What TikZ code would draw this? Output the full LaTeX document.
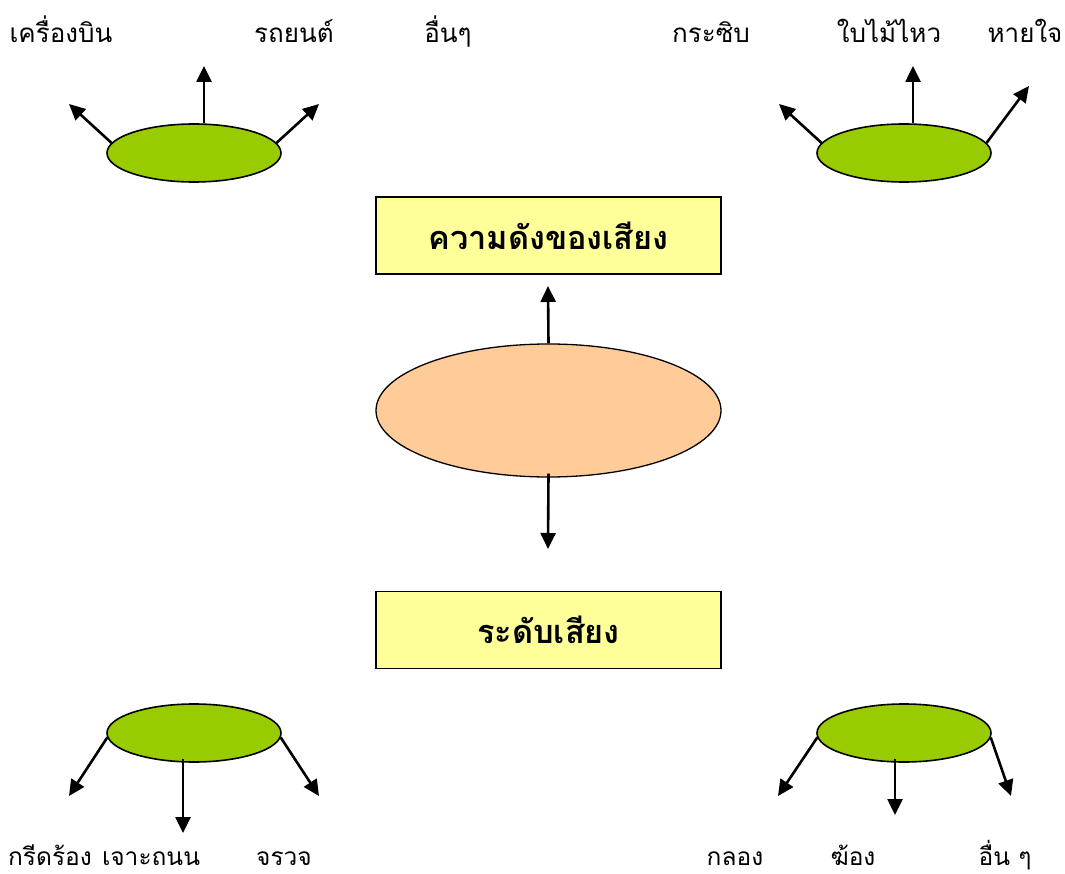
\documentclass[tikz,border=0pt]{standalone}
\usepackage{fontspec}
\newfontfamily\thaifont[Script=Thai]{Loma}
\usetikzlibrary{shapes.geometric,arrows.meta,calc}
\definecolor{leafgreen}{HTML}{99CC00}
\definecolor{peach}{HTML}{FFCC99}
\definecolor{paleyellow}{HTML}{FFFF99}
\begin{document}
\begin{tikzpicture}[x=1pt,y=-1pt,
  every node/.style={font=\thaifont},
  smallleaf/.style={ellipse,draw,line width=1.6pt,fill=leafgreen,minimum width=174pt,minimum height=58pt,inner sep=0pt},
  bigleaf/.style={ellipse,draw,line width=1.3pt,fill=peach,minimum width=345pt,minimum height=133pt,inner sep=0pt},
  titlebox/.style={draw,line width=1.3pt,fill=paleyellow,minimum width=345pt,minimum height=77pt,inner sep=0pt,font=\thaifont\bfseries\fontsize{32.5}{36}\selectfont},
  word/.style={anchor=base,inner sep=0pt,font=\thaifont\fontsize{26}{30}\selectfont},
  lowword/.style={word,font=\thaifont\fontsize{24.5}{28}\selectfont},
  pointer/.style={line width=2.6pt,-{Triangle[length=16pt,width=15pt]}}
]
\useasboundingbox (0,0) rectangle (1065,874);

% central part
\node[titlebox] (loud) at (548.5,235.5) {ความดังของเสียง};
\node[bigleaf] (core) at (548.5,410.5) {};
\node[titlebox] (level) at (548.5,630) {ระดับเสียง};
\coordinate (upend) at (548,286);
\coordinate (downend) at (548,549);
\draw[pointer] (core.north) -- (upend);
\draw[pointer] ($(core.south)+(0,-4)$) -- (downend);

% four small ellipses
\node[smallleaf] (tl) at (194,153) {};
\node[smallleaf] (tr) at (904,153) {};
\node[smallleaf] (bl) at (194,733) {};
\node[smallleaf] (br) at (904,733) {};

% arrow ends
\coordinate (tl1) at (69,104);
\coordinate (tl2) at (204,66);
\coordinate (tl3) at (319,104);
\coordinate (tr1) at (779,104);
\coordinate (tr2) at (913,66);
\coordinate (tr3) at (1029,86);
\coordinate (bl1) at (69,796);
\coordinate (bl2) at (183,833);
\coordinate (bl3) at (319,796);
\coordinate (br1) at (778,796);
\coordinate (br2) at (895,815);
\coordinate (br3) at (1011,796);

\draw[pointer] (tl.173) -- (tl1);
\draw[pointer] ($(tl.north)+(10,0)$) -- (tl2);
\draw[pointer] (tl.7) -- (tl3);
\draw[pointer] (tr.173) -- (tr1);
\draw[pointer] ($(tr.north)+(9,0)$) -- (tr2);
\draw[pointer] (tr.7) -- (tr3);
\draw[pointer] (bl.183) -- (bl1);
\draw[pointer] ($(bl.south)+(-11,-4)$) -- (bl2);
\draw[pointer] (bl.357) -- (bl3);
\draw[pointer] (br.183) -- (br1);
\draw[pointer] ($(br.south)+(-9,-4)$) -- (br2);
\draw[pointer] (br.357) -- (br3);

% labels
\node[word] (w1) at (61,43) {เครื่องบิน};
\node[word] (w2) at (294,43) {รถยนต์};
\node[word] (w3) at (448,43) {อื่นๆ};
\node[word] (w4) at (711,43) {กระซิบ};
\node[word] (w5) at (889,43) {ใบไม้ไหว};
\node[word] (w6) at (1025,43) {หายใจ};
\node[lowword] (w7) at (50,865) {กรีดร้อง};
\node[lowword] (w8) at (151,865) {เจาะถนน};
\node[lowword] (w9) at (284,865) {จรวจ};
\node[lowword] (w10) at (735,865) {กลอง};
\node[lowword] (w11) at (853,865) {ฆ้อง};
\node[lowword] (w12) at (1005,865) {อื่น ๆ};
\end{tikzpicture}
\end{document}
